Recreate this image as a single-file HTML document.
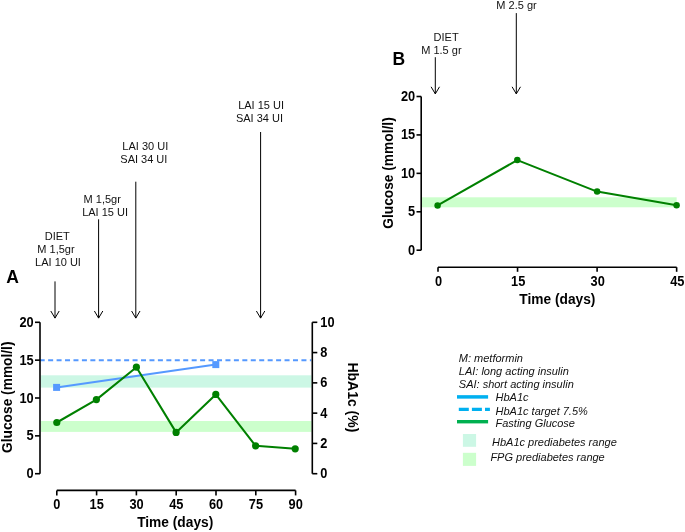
<!DOCTYPE html>
<html><head><meta charset="utf-8"><style>
html,body{margin:0;padding:0;background:#fff;width:685px;height:532px;overflow:hidden}
svg{display:block;will-change:transform}
text{font-family:"Liberation Sans",sans-serif;fill:#000}
.tk{font-size:12.8px;font-weight:bold}
.ttl{font-size:13.75px;font-weight:bold}
.ann{font-size:11px;fill:#111}
.leg{font-size:11px;font-style:italic;fill:#111}
.lbl{font-size:17.5px;font-weight:bold}
.lblb{font-size:17.5px;font-weight:bold}
</style></head><body>
<svg width="685" height="532" viewBox="0 0 685 532">
<rect width="685" height="532" fill="#fff"/>
<rect x="40.8" y="375.3" width="270.7" height="12.3" fill="#ccf7e5"/>
<rect x="40.8" y="421.0" width="270.7" height="10.9" fill="#ccffcc"/>
<line x1="40.0" y1="360.3" x2="311.3" y2="360.3" stroke="#5599ff" stroke-width="2" stroke-dasharray="5 3.443" stroke-dashoffset="0.3"/>
<line x1="56.6" y1="387.4" x2="215.8" y2="364.6" stroke="#5599ff" stroke-width="2"/>
<rect x="53.1" y="383.9" width="7" height="7" fill="#5599ff"/>
<rect x="212.3" y="361.1" width="7" height="7" fill="#5599ff"/>
<polyline points="56.8,422.5 96.4,399.6 136.4,367.2 176.1,432.4 215.8,394.4 255.6,445.8 295.2,448.8" fill="none" stroke="#008000" stroke-width="2.05" stroke-linejoin="round"/>
<circle cx="56.8" cy="422.5" r="3.6" fill="#008000"/>
<circle cx="96.4" cy="399.6" r="3.6" fill="#008000"/>
<circle cx="136.4" cy="367.2" r="3.6" fill="#008000"/>
<circle cx="176.1" cy="432.4" r="3.6" fill="#008000"/>
<circle cx="215.8" cy="394.4" r="3.6" fill="#008000"/>
<circle cx="255.6" cy="445.8" r="3.6" fill="#008000"/>
<circle cx="295.2" cy="448.8" r="3.6" fill="#008000"/>
<path d="M40.0,322.29999999999995 V473.7" stroke="#000" stroke-width="1.6" fill="none"/>
<path d="M35.0,473.7 H40.0" stroke="#000" stroke-width="1.6"/>
<text transform="translate(33.6,478.2) scale(1,1.1)" text-anchor="end" class="tk">0</text>
<path d="M35.0,435.84999999999997 H40.0" stroke="#000" stroke-width="1.6"/>
<text transform="translate(33.6,440.34999999999997) scale(1,1.1)" text-anchor="end" class="tk">5</text>
<path d="M35.0,398.0 H40.0" stroke="#000" stroke-width="1.6"/>
<text transform="translate(33.6,402.5) scale(1,1.1)" text-anchor="end" class="tk">10</text>
<path d="M35.0,360.15 H40.0" stroke="#000" stroke-width="1.6"/>
<text transform="translate(33.6,364.65) scale(1,1.1)" text-anchor="end" class="tk">15</text>
<path d="M35.0,322.29999999999995 H40.0" stroke="#000" stroke-width="1.6"/>
<text transform="translate(33.6,326.79999999999995) scale(1,1.1)" text-anchor="end" class="tk">20</text>
<path d="M312.3,322.29999999999995 V473.7" stroke="#000" stroke-width="1.6" fill="none"/>
<path d="M312.3,473.7 H317.3" stroke="#000" stroke-width="1.6"/>
<text transform="translate(320.3,478.2) scale(1,1.1)" text-anchor="start" class="tk">0</text>
<path d="M312.3,443.41999999999996 H317.3" stroke="#000" stroke-width="1.6"/>
<text transform="translate(320.3,447.91999999999996) scale(1,1.1)" text-anchor="start" class="tk">2</text>
<path d="M312.3,413.14 H317.3" stroke="#000" stroke-width="1.6"/>
<text transform="translate(320.3,417.64) scale(1,1.1)" text-anchor="start" class="tk">4</text>
<path d="M312.3,382.86 H317.3" stroke="#000" stroke-width="1.6"/>
<text transform="translate(320.3,387.36) scale(1,1.1)" text-anchor="start" class="tk">6</text>
<path d="M312.3,352.58 H317.3" stroke="#000" stroke-width="1.6"/>
<text transform="translate(320.3,357.08) scale(1,1.1)" text-anchor="start" class="tk">8</text>
<path d="M312.3,322.29999999999995 H317.3" stroke="#000" stroke-width="1.6"/>
<text transform="translate(320.3,326.79999999999995) scale(1,1.1)" text-anchor="start" class="tk">10</text>
<path d="M56.8,490.4 H295.59700000000004" stroke="#000" stroke-width="1.6" fill="none"/>
<path d="M56.8,490.4 V495.4" stroke="#000" stroke-width="1.6"/>
<text transform="translate(56.9,508.5) scale(1,1.1)" text-anchor="middle" class="tk">0</text>
<path d="M96.5995,490.4 V495.4" stroke="#000" stroke-width="1.6"/>
<text transform="translate(96.6995,508.5) scale(1,1.1)" text-anchor="middle" class="tk">15</text>
<path d="M136.399,490.4 V495.4" stroke="#000" stroke-width="1.6"/>
<text transform="translate(136.499,508.5) scale(1,1.1)" text-anchor="middle" class="tk">30</text>
<path d="M176.19850000000002,490.4 V495.4" stroke="#000" stroke-width="1.6"/>
<text transform="translate(176.29850000000002,508.5) scale(1,1.1)" text-anchor="middle" class="tk">45</text>
<path d="M215.998,490.4 V495.4" stroke="#000" stroke-width="1.6"/>
<text transform="translate(216.09799999999998,508.5) scale(1,1.1)" text-anchor="middle" class="tk">60</text>
<path d="M255.7975,490.4 V495.4" stroke="#000" stroke-width="1.6"/>
<text transform="translate(255.8975,508.5) scale(1,1.1)" text-anchor="middle" class="tk">75</text>
<path d="M295.59700000000004,490.4 V495.4" stroke="#000" stroke-width="1.6"/>
<text transform="translate(295.69700000000006,508.5) scale(1,1.1)" text-anchor="middle" class="tk">90</text>
<text transform="translate(175.2,526.8) scale(1,1.13)" text-anchor="middle" class="ttl">Time (days)</text>
<text transform="translate(12.3,397.2) rotate(-90) scale(1,1.13)" text-anchor="middle" class="ttl">Glucose (mmol/l)</text>
<text transform="translate(347.7,397.4) rotate(90) scale(1,1.02)" text-anchor="middle" class="ttl" style="font-size:14px">HbA1c (%)</text>
<text x="6.2" y="282.8" class="lbl">A</text>
<text x="57.3" y="239.9" text-anchor="middle" class="ann">DIET</text>
<text x="56.0" y="252.85" text-anchor="middle" class="ann">M 1,5gr</text>
<text x="58.0" y="265.8" text-anchor="middle" class="ann">LAI 10 UI</text>
<path d="M55.0,281.4 V318.1 M50.8,311.0 L55.0,318.1 L59.2,311.0" stroke="#000" stroke-width="1" fill="none"/>
<text x="102.2" y="203.0" text-anchor="middle" class="ann">M 1,5gr</text>
<text x="105.1" y="216.1" text-anchor="middle" class="ann">LAI 15 UI</text>
<path d="M98.6,219.3 V318.1 M94.39999999999999,311.0 L98.6,318.1 L102.8,311.0" stroke="#000" stroke-width="1" fill="none"/>
<text x="145.3" y="149.7" text-anchor="middle" class="ann">LAI 30 UI</text>
<text x="143.85" y="162.89999999999998" text-anchor="middle" class="ann">SAI 34 UI</text>
<path d="M135.8,181.7 V318.1 M131.60000000000002,311.0 L135.8,318.1 L140.0,311.0" stroke="#000" stroke-width="1" fill="none"/>
<text x="261.1" y="108.9" text-anchor="middle" class="ann">LAI 15 UI</text>
<text x="259.45" y="122.10000000000001" text-anchor="middle" class="ann">SAI 34 UI</text>
<path d="M260.6,132.0 V318.1 M256.40000000000003,311.0 L260.6,318.1 L264.8,311.0" stroke="#000" stroke-width="1" fill="none"/>
<rect x="422.0" y="197.3" width="254.6485" height="10.0" fill="#ccffcc"/>
<polyline points="437.6,205.4 517.3,160.1 597.1,191.6 676.6,205.3" fill="none" stroke="#008000" stroke-width="2" stroke-linejoin="round"/>
<circle cx="437.6" cy="205.4" r="3.25" fill="#008000"/>
<circle cx="517.3" cy="160.1" r="3.25" fill="#008000"/>
<circle cx="597.1" cy="191.6" r="3.25" fill="#008000"/>
<circle cx="676.6" cy="205.3" r="3.25" fill="#008000"/>
<path d="M421.2,96.5 V250.2" stroke="#000" stroke-width="1.6" fill="none"/>
<path d="M416.5,250.2 H421.2" stroke="#000" stroke-width="1.6"/>
<text transform="translate(415.2,254.7) scale(1,1.1)" text-anchor="end" class="tk">0</text>
<path d="M416.5,211.77499999999998 H421.2" stroke="#000" stroke-width="1.6"/>
<text transform="translate(415.2,216.27499999999998) scale(1,1.1)" text-anchor="end" class="tk">5</text>
<path d="M416.5,173.35 H421.2" stroke="#000" stroke-width="1.6"/>
<text transform="translate(415.2,177.85) scale(1,1.1)" text-anchor="end" class="tk">10</text>
<path d="M416.5,134.925 H421.2" stroke="#000" stroke-width="1.6"/>
<text transform="translate(415.2,139.425) scale(1,1.1)" text-anchor="end" class="tk">15</text>
<path d="M416.5,96.5 H421.2" stroke="#000" stroke-width="1.6"/>
<text transform="translate(415.2,101.0) scale(1,1.1)" text-anchor="end" class="tk">20</text>
<path d="M438.0,267.2 H676.6485" stroke="#000" stroke-width="1.6" fill="none"/>
<path d="M438.0,267.2 V271.8" stroke="#000" stroke-width="1.6"/>
<text transform="translate(438.6,285.5) scale(1,1.1)" text-anchor="middle" class="tk">0</text>
<path d="M517.5495,267.2 V271.8" stroke="#000" stroke-width="1.6"/>
<text transform="translate(518.1495,285.5) scale(1,1.1)" text-anchor="middle" class="tk">15</text>
<path d="M597.0989999999999,267.2 V271.8" stroke="#000" stroke-width="1.6"/>
<text transform="translate(597.699,285.5) scale(1,1.1)" text-anchor="middle" class="tk">30</text>
<path d="M676.6485,267.2 V271.8" stroke="#000" stroke-width="1.6"/>
<text transform="translate(677.2485,285.5) scale(1,1.1)" text-anchor="middle" class="tk">45</text>
<text transform="translate(557.4,303.9) scale(1,1.13)" text-anchor="middle" class="ttl">Time (days)</text>
<text transform="translate(393.0,173.0) rotate(-90) scale(1,1.13)" text-anchor="middle" class="ttl">Glucose (mmol/l)</text>
<text x="392.6" y="64.9" class="lblb">B</text>
<text x="446.15" y="40.7" text-anchor="middle" class="ann">DIET</text>
<text x="441.4" y="54.0" text-anchor="middle" class="ann">M 1.5 gr</text>
<path d="M435.3,57.2 V93.9 M431.1,86.80000000000001 L435.3,93.9 L439.5,86.80000000000001" stroke="#000" stroke-width="1" fill="none"/>
<text x="516.5" y="9.0" text-anchor="middle" class="ann">M 2.5 gr</text>
<path d="M516.3,13.1 V93.9 M512.0999999999999,86.80000000000001 L516.3,93.9 L520.5,86.80000000000001" stroke="#000" stroke-width="1" fill="none"/>
<text x="458.8" y="361.9" class="leg">M: metformin</text>
<text x="458.8" y="375.2" class="leg">LAI: long acting insulin</text>
<text x="458.8" y="388.4" class="leg">SAI: short acting insulin</text>
<line x1="457" y1="396.9" x2="488.1" y2="396.9" stroke="#00b0f0" stroke-width="3.5"/>
<text x="495.5" y="401.4" class="leg">HbA1c</text>
<line x1="458.8" y1="409.4" x2="489.9" y2="409.4" stroke="#00b0f0" stroke-width="3.4" stroke-dasharray="10 3.1"/>
<text x="495.5" y="414.6" class="leg">HbA1c target 7.5%</text>
<line x1="457" y1="421.7" x2="488.1" y2="421.7" stroke="#00b050" stroke-width="3.4"/>
<text x="495.5" y="427.3" class="leg">Fasting Glucose</text>
<rect x="462.9" y="434" width="13.2" height="12.8" fill="#ccf7e5"/>
<text x="492.0" y="445.8" class="leg">HbA1c prediabetes range</text>
<rect x="462.9" y="452.8" width="13.2" height="13.1" fill="#ccffcc"/>
<text x="490.4" y="461.1" class="leg">FPG prediabetes range</text>
</svg>
</body></html>
